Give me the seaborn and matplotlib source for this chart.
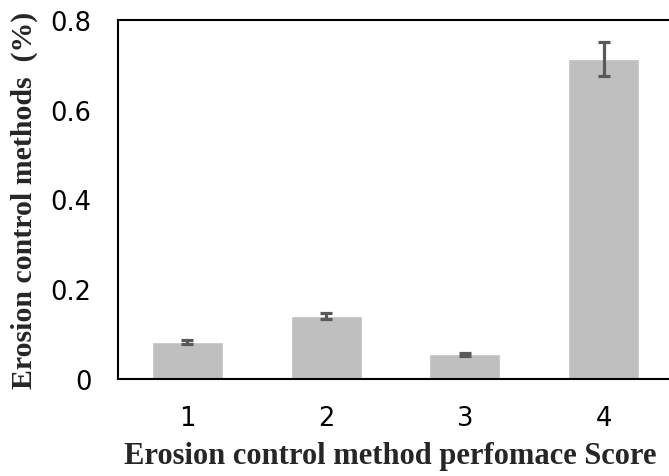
import matplotlib
matplotlib.use("Agg")
import matplotlib.pyplot as plt
import seaborn as sns
import pandas as pd

categories = ["1", "2", "3", "4"]
values = [0.083, 0.141, 0.055, 0.713]
errors = [0.004, 0.007, 0.004, 0.038]

df = pd.DataFrame({"score": categories, "value": values})

sns.set_style("white")
fig = plt.figure(figsize=(6.69, 4.77), dpi=100)
ax = fig.add_axes([118/669, 97/477, (673-118)/669, (380-21)/477])

sns.barplot(data=df, x="score", y="value", color="#bfbfbf", saturation=1,
            width=0.51, errorbar=None, ax=ax)
ax.errorbar(x=range(len(categories)), y=values, yerr=errors, fmt="none",
            ecolor="#595959", elinewidth=2.3, capsize=4, capthick=2.3)

ax.set_ylim(0, 0.8)
ax.set_xlim(-0.5, 3.5)
ax.set_yticks([0, 0.2, 0.4, 0.6, 0.8])
ax.set_yticklabels(["0", "0.2", "0.4", "0.6", "0.8"])
ax.tick_params(axis="both", length=0, labelsize=18.5, colors="#000000")
ax.tick_params(axis="x", pad=19)
ax.tick_params(axis="y", pad=19)

for s in ["top", "left", "bottom", "right"]:
    ax.spines[s].set_color("#000000")
    ax.spines[s].set_linewidth(1.5)

ax.set_xlabel("Erosion control method perfomace Score", fontfamily="Liberation Serif",
              fontweight="bold", fontsize=22)
ax.set_ylabel("Erosion control methods  (%)", fontfamily="Liberation Serif",
              fontweight="bold", fontsize=21.5)
ax.xaxis.set_label_coords(0.49, -0.172)
ax.yaxis.set_label_coords(-0.145, 0.5)

fig.savefig("out.png", dpi=100)
